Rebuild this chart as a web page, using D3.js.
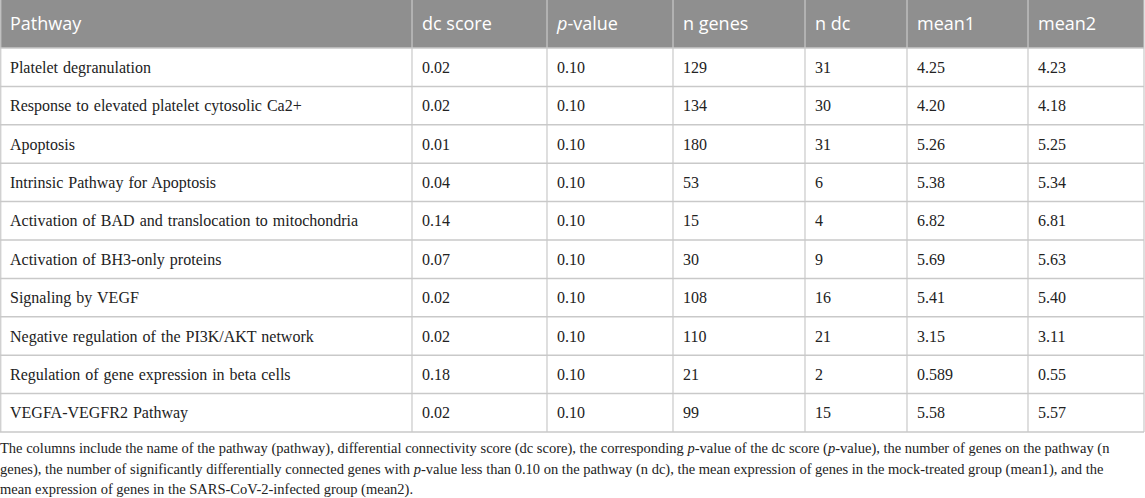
<!DOCTYPE html>
<html>
<head>
<meta charset="utf-8">
<script src="https://cdn.jsdelivr.net/npm/d3@7"></script>
<style>
  body { margin: 0; background: #fff; }
  svg { display: block; }
</style>
</head>
<body>
<svg id="tbl" width="1145" height="498"></svg>
<script>
// table contents
var headers = ["Pathway", "dc score", "p-value", "n genes", "n dc", "mean1", "mean2"]
var pathways = [
    "Platelet degranulation",
    "Response to elevated platelet cytosolic Ca2+",
    "Apoptosis",
    "Intrinsic Pathway for Apoptosis",
    "Activation of BAD and translocation to mitochondria",
    "Activation of BH3-only proteins",
    "Signaling by VEGF",
    "Negative regulation of the PI3K/AKT network",
    "Regulation of gene expression in beta cells",
    "VEGFA-VEGFR2 Pathway"
]
var dcScore = ["0.02", "0.02", "0.01", "0.04", "0.14", "0.07", "0.02", "0.02", "0.18", "0.02"]
var pValue = ["0.10", "0.10", "0.10", "0.10", "0.10", "0.10", "0.10", "0.10", "0.10", "0.10"]
var nGenes = ["129", "134", "180", "53", "15", "30", "108", "110", "21", "99"]
var nDc = ["31", "30", "31", "6", "4", "9", "16", "21", "2", "15"]
var mean1 = ["4.25", "4.20", "5.26", "5.38", "6.82", "5.69", "5.41", "3.15", "0.589", "5.58"]
var mean2 = ["4.23", "4.18", "5.25", "5.34", "6.81", "5.63", "5.40", "3.11", "0.55", "5.57"]

// footnote, split into its three lines; "i" parts are italic
var footLines = [
    [{t: "The columns include the name of the pathway (pathway), differential connectivity score (dc score), the corresponding "},
     {t: "p", i: true}, {t: "-value of the dc score ("}, {t: "p", i: true},
     {t: "-value), the number of genes on the pathway (n"}],
    [{t: "genes), the number of significantly differentially connected genes with "}, {t: "p", i: true},
     {t: "-value less than 0.10 on the pathway (n dc), the mean expression of genes in the mock-treated group (mean1), and the"}],
    [{t: "mean expression of genes in the SARS-CoV-2-infected group (mean2)."}]
]

var columns = [pathways, dcScore, pValue, nGenes, nDc, mean1, mean2]
var colEdges = [0, 412, 547, 673, 805, 907, 1028, 1144]
var headH = 48
var tableBottom = 432
var pad = 10

var svg = d3.select("#tbl")

var yRow = d3.scaleBand()
    .domain(d3.range(pathways.length))
    .range([headH, tableBottom])

// header band
svg.append("rect")
    .attr("x", 0).attr("y", 0)
    .attr("width", colEdges[colEdges.length - 1]).attr("height", headH)
    .attr("fill", "#8f8f8f")

svg.selectAll(".head")
    .data(headers)
    .enter().append("text")
    .attr("class", "head")
    .attr("x", function (d, i) { return colEdges[i] + pad })
    .attr("y", headH / 2)
    .attr("dy", "0.35em")
    .style("font-family", "'Open Sans', sans-serif")
    .style("font-size", "18px")
    .attr("fill", "#fff")
    .each(function (d) {
        var t = d3.select(this)
        if (d == "p-value") {
            t.append("tspan").style("font-style", "italic").text("p")
            t.append("tspan").text("-value")
        } else {
            t.text(d)
        }
    })

// body cells
var cells = []
columns.forEach(function (col, c) {
    col.forEach(function (v, r) {
        cells.push({col: c, row: r, value: v})
    })
})

svg.selectAll(".cell")
    .data(cells)
    .enter().append("text")
    .attr("class", "cell")
    .attr("x", function (d) { return colEdges[d.col] + pad })
    .attr("y", function (d) { return yRow(d.row) + yRow.bandwidth() / 2 })
    .attr("dy", "0.35em")
    .style("font-family", "'Liberation Serif', 'Times New Roman', serif")
    .style("font-size", "16px")
    .style("word-spacing", "1px")
    .attr("fill", "#222")
    .text(function (d) { return d.value })

// grid lines
var lineColor = "#c9c9c9"
svg.selectAll(".hline")
    .data(d3.range(pathways.length + 1))
    .enter().append("line")
    .attr("class", "hline")
    .attr("x1", 0).attr("x2", colEdges[colEdges.length - 1])
    .attr("y1", function (i) { return i == pathways.length ? tableBottom : yRow(i) })
    .attr("y2", function (i) { return i == pathways.length ? tableBottom : yRow(i) })
    .attr("stroke", lineColor).attr("stroke-width", 1.5)

svg.selectAll(".vline")
    .data(colEdges)
    .enter().append("line")
    .attr("class", "vline")
    .attr("x1", function (d) { return d == 0 ? 0.75 : d })
    .attr("x2", function (d) { return d == 0 ? 0.75 : d })
    .attr("y1", 0).attr("y2", tableBottom)
    .attr("stroke", lineColor)
    .attr("stroke-width", 1.2)

// footnote
svg.selectAll(".foot")
    .data(footLines)
    .enter().append("text")
    .attr("class", "foot")
    .attr("x", 0)
    .attr("y", function (d, i) { return 448 + i * 20.5 })
    .attr("dy", "0.35em")
    .style("font-family", "'Liberation Serif', 'Times New Roman', serif")
    .style("font-size", "14.5px")
    .attr("fill", "#222")
    .each(function (parts) {
        var t = d3.select(this)
        parts.forEach(function (p) {
            t.append("tspan")
                .style("font-style", p.i ? "italic" : "normal")
                .text(p.t)
        })
    })
</script>
</body>
</html>
